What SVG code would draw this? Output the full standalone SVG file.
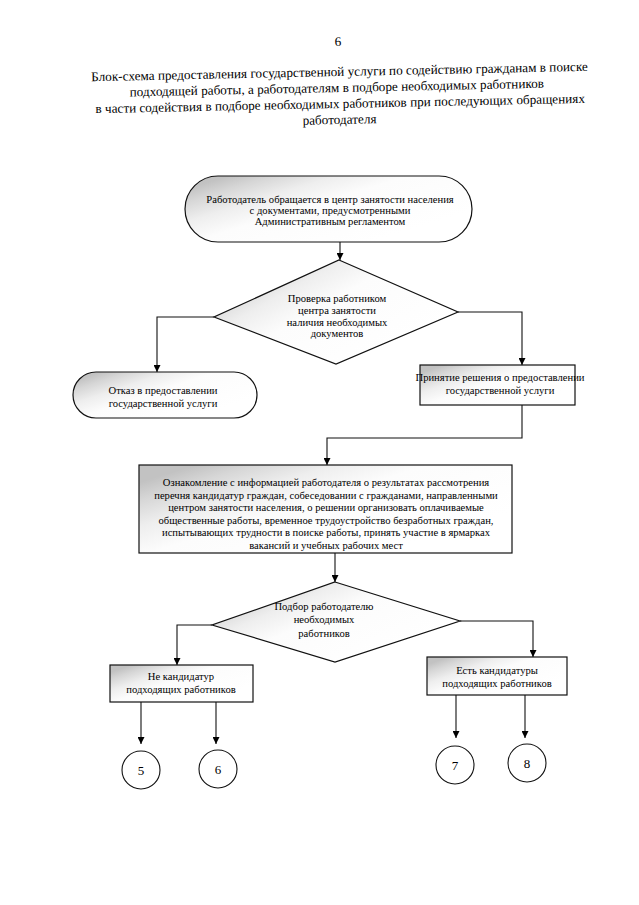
<svg xmlns="http://www.w3.org/2000/svg" width="639" height="905" viewBox="0 0 639 905">
<defs>
<linearGradient id="shade" x1="0" y1="0.2" x2="0.8" y2="0.8">
<stop offset="0" stop-color="#c2c2c2"/>
<stop offset="0.12" stop-color="#d6d6d6"/>
<stop offset="0.3" stop-color="#eeeeee"/>
<stop offset="0.5" stop-color="#fcfcfc"/>
<stop offset="1" stop-color="#ffffff"/>
</linearGradient>
<marker id="arr" viewBox="0 0 10 10" refX="10" refY="5" markerWidth="7" markerHeight="7" markerUnits="userSpaceOnUse" orient="auto">
<path d="M0,0 L10,5 L0,10 z" fill="#000"/>
</marker>
</defs>
<style>
text{font-family:"Liberation Serif","DejaVu Serif",serif;fill:#000}
.t{font-size:10.6px;text-anchor:middle}
.ti{font-size:13.2px;text-anchor:middle}
.n{font-size:13px;text-anchor:middle}
.s{fill:url(#shade);stroke:#111;stroke-width:1.2}
.c{fill:#fff;stroke:#111;stroke-width:1.1}
.l{fill:none;stroke:#111;stroke-width:1.1}
</style>
<rect width="639" height="905" fill="#fff"/>
<g id="title" transform="rotate(-1.2 339 95)" font-family="Liberation Serif, serif">
<text class="ti" x="339" y="46">6</text>
<text class="ti" x="340" y="76">Блок-схема предоставления государственной услуги по содействию гражданам в поиске</text>
<text class="ti" x="337" y="92">подходящей работы, а работодателям в подборе необходимых работников</text>
<text class="ti" x="340" y="108">в части содействия в подборе необходимых работников при последующих обращениях</text>
<text class="ti" x="339" y="124">работодателя</text>
</g>
<g id="connectors">
<path class="l" d="M340,242 V260" marker-end="url(#arr)"/>
<path class="l" d="M214,317 H157 V372" marker-end="url(#arr)"/>
<path class="l" d="M458,312 H522 V365" marker-end="url(#arr)"/>
<path class="l" d="M522,405 V438 H327 V465" marker-end="url(#arr)"/>
<path class="l" d="M335,553 V582" marker-end="url(#arr)"/>
<path class="l" d="M212,625 H177 V665" marker-end="url(#arr)"/>
<path class="l" d="M460,621 H533 V657" marker-end="url(#arr)"/>
<path class="l" d="M141,702 V744" marker-end="url(#arr)"/>
<path class="l" d="M216,702 V744" marker-end="url(#arr)"/>
<path class="l" d="M456,695 V738" marker-end="url(#arr)"/>
<path class="l" d="M525,695 V738" marker-end="url(#arr)"/>
</g>
<g id="start" font-family="Liberation Serif, serif">
<rect class="s" x="185" y="176" width="287" height="66" rx="33" ry="33"/>
<text class="t" x="330" y="203">Работодатель обращается в центр занятости населения</text>
<text class="t" x="330" y="214">с документами, предусмотренными</text>
<text class="t" x="330" y="225">Административным регламентом</text>
</g>
<g id="check" font-family="Liberation Serif, serif">
<polygon class="s" points="339,260 458,312 336,364 214,317"/>
<text class="t" x="337" y="302">Проверка работником</text>
<text class="t" x="337" y="314">центра занятости</text>
<text class="t" x="337" y="325.5">наличия необходимых</text>
<text class="t" x="337" y="337">документов</text>
</g>
<g id="refuse" font-family="Liberation Serif, serif">
<rect class="s" x="73" y="372" width="184" height="46" rx="23" ry="23"/>
<text class="t" x="163" y="394">Отказ в предоставлении</text>
<text class="t" x="163" y="407">государственной услуги</text>
</g>
<g id="decision" font-family="Liberation Serif, serif">
<rect class="s" x="420" y="365" width="155" height="40"/>
<text class="t" x="500" y="381">Принятие решения о предоставлении</text>
<text class="t" x="500" y="394">государственной услуги</text>
</g>
<g id="review" font-family="Liberation Serif, serif">
<rect class="s" x="139" y="465" width="373" height="88"/>
<text class="t" x="326" y="486">Ознакомление с информацией работодателя о результатах рассмотрения</text>
<text class="t" x="326" y="498.5">перечня кандидатур граждан, собеседовании с гражданами, направленными</text>
<text class="t" x="326" y="511">центром занятости населения, о решении организовать оплачиваемые</text>
<text class="t" x="326" y="523.5">общественные работы, временное трудоустройство безработных граждан,</text>
<text class="t" x="326" y="536">испытывающих трудности в поиске работы, принять участие в ярмарках</text>
<text class="t" x="326" y="548.5">вакансий и  учебных рабочих мест</text>
</g>
<g id="select" font-family="Liberation Serif, serif">
<polygon class="s" points="335,582 460,621 335,662 212,625"/>
<text class="t" x="324" y="610">Подбор работодателю</text>
<text class="t" x="324" y="623">необходимых</text>
<text class="t" x="324" y="637">работников</text>
</g>
<g id="none" font-family="Liberation Serif, serif">
<rect class="s" x="110" y="665" width="143" height="37"/>
<text class="t" x="181" y="680">Не кандидатур</text>
<text class="t" x="181" y="693">подходящих работников</text>
</g>
<g id="some" font-family="Liberation Serif, serif">
<rect class="s" x="427" y="657" width="140" height="38"/>
<text class="t" x="497" y="674">Есть кандидатуры</text>
<text class="t" x="497" y="687">подходящих работников</text>
</g>
<g id="c5"><circle class="c" cx="141" cy="770" r="19"/><text class="n" x="141" y="775">5</text></g>
<g id="c6"><circle class="c" cx="218" cy="769" r="19"/><text class="n" x="218" y="774">6</text></g>
<g id="c7"><circle class="c" cx="455" cy="765" r="19"/><text class="n" x="455" y="770">7</text></g>
<g id="c8"><circle class="c" cx="527" cy="763" r="19"/><text class="n" x="527" y="768">8</text></g>
</svg>
